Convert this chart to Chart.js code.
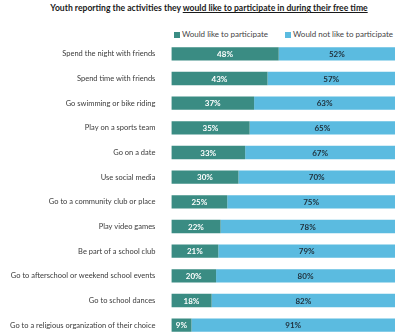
<!DOCTYPE html>
<html>
<head>
<meta charset="utf-8">
<script src="https://cdn.jsdelivr.net/npm/chart.js@4/dist/chart.umd.min.js"></script>
<style>
  html, body { margin: 0; padding: 0; background: #fff; overflow: hidden; }
  #wrap { position: relative; width: 400px; height: 336px; overflow: hidden; }
  #title {
    position: absolute; left: 0; top: 3px; width: 418px; text-align: center;
    font: bold 8.6px Lato, "Open Sans", sans-serif; color: #1a1a1a;
  }
  #title u { text-decoration-thickness: 1px; text-underline-offset: 1px; }
  #legend {
    position: absolute; right: 7px; top: 29px; white-space: nowrap;
    font: 8px Lato, sans-serif; color: #444; line-height: 10px;
  }
  #legend span.item { margin-left: 17px; }
  #legend i {
    display: inline-block; width: 6px; height: 6px; margin-right: 2px;
    vertical-align: -0.5px;
  }
  #box { position: absolute; left: 0; top: 29px; width: 400px; height: 321px; }
</style>
</head>
<body>
<div id="wrap">
  <div id="title">Youth reporting the activities they <u>would like to participate in during their free time</u></div>
  <div id="legend"></div>
  <div id="box"><canvas id="activityChart"></canvas></div>
</div>
<script>
let activities = [
  'Spend the night with friends',
  'Spend time with friends',
  'Go swimming or bike riding',
  'Play on a sports team',
  'Go on a date',
  'Use social media',
  'Go to a community club or place',
  'Play video games',
  'Be part of a school club',
  'Go to afterschool or weekend school events',
  'Go to school dances',
  'Go to a religious organization of their choice'
];
let seriesNames = ['Would like to participate', 'Would not like to participate'];
let wouldLike    = [48, 43, 37, 35, 33, 30, 25, 22, 21, 20, 18, 9];
let wouldNotLike = [52, 57, 63, 65, 67, 70, 75, 78, 79, 80, 82, 91];
let seriesColors = ['#3a8c83', '#5bbbe0'];

// writes the percent in the middle of each bar segment
let barLabels = {
  id: 'barLabels',
  afterDatasetsDraw(chart) {
    let ctx = chart.ctx;
    ctx.save();
    ctx.font = 'bold 8px Lato, sans-serif';
    ctx.textAlign = 'center';
    ctx.textBaseline = 'middle';
    chart.data.datasets.forEach(function (ds, i) {
      chart.getDatasetMeta(i).data.forEach(function (bar, j) {
        ctx.fillStyle = i === 0 ? '#ffffff' : '#1f2f3a';
        let mid = (bar.x + bar.base) / 2;
        ctx.fillText(ds.data[j] + '%', mid, bar.y + 0.5);
      });
    });
    ctx.restore();
  }
};

let activityCanvas = document.getElementById('activityChart').getContext('2d');

let activityChart = new Chart(activityCanvas, {
  type: 'bar',
  data: {
    labels: activities,
    datasets: [
      {
        label: seriesNames[0],
        data: wouldLike,
        backgroundColor: seriesColors[0],
        borderWidth: 0,
        barPercentage: 0.6,
        categoryPercentage: 0.9
      },
      {
        label: seriesNames[1],
        data: wouldNotLike,
        backgroundColor: seriesColors[1],
        borderWidth: 0,
        barPercentage: 0.6,
        categoryPercentage: 0.9
      }
    ]
  },
  options: {
    indexAxis: 'y',
    responsive: true,
    maintainAspectRatio: false,
    animation: false,
    layout: { padding: { right: 5, left: 2, top: 0, bottom: 0 } },
    scales: {
      x: { stacked: true, min: 0, max: 100, display: false },
      y: {
        stacked: true,
        grid: { display: false },
        border: { display: false },
        ticks: {
          color: '#3a3a3a',
          padding: 8,
          font: { family: 'Lato', size: 7.5 }
        }
      }
    },
    plugins: {
      legend: { display: false },
      tooltip: { enabled: false }
    }
  },
  plugins: [barLabels]
});

// legend built from the chart's own datasets
let legendEl = document.getElementById('legend');
activityChart.data.datasets.forEach(function (ds, i) {
  let item = document.createElement('span');
  item.className = 'item';
  item.innerHTML = '<i style="background:' + ds.backgroundColor + '"></i>' + ds.label;
  legendEl.appendChild(item);
});
</script>
</body>
</html>
